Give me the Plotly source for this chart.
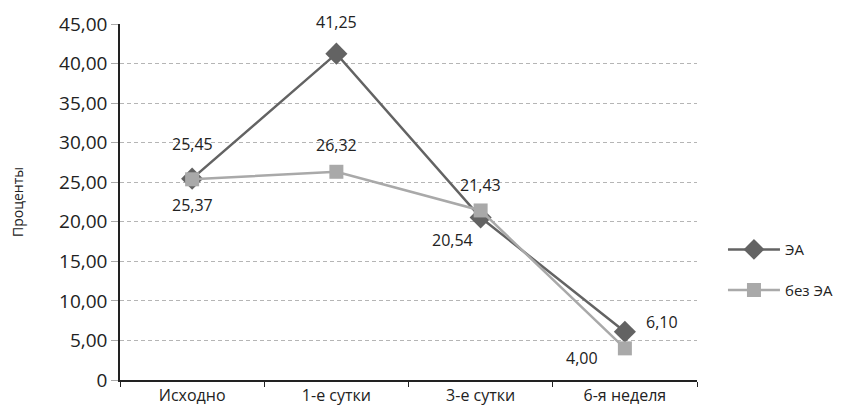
import plotly.graph_objects as go

categories = ["Исходно", "1-е сутки", "3-е сутки", "6-я неделя"]
ea_values = [25.45, 41.25, 20.54, 6.10]
no_ea_values = [25.37, 26.32, 21.43, 4.00]
y_tick_values = [0, 5, 10, 15, 20, 25, 30, 35, 40, 45]
y_tick_labels = ["0", "5,00", "10,00", "15,00", "20,00", "25,00", "30,00", "35,00", "40,00", "45,00"]

FONT = "Open Sans"
DARK = "#636363"
LIGHT = "#a9a9a9"

def fmt(v):
    return f"{v:.2f}".replace(".", ",")

fig = go.Figure()
fig.add_trace(go.Scatter(
    x=categories, y=ea_values, name="ЭА", mode="lines+markers",
    line=dict(color=DARK, width=2.5),
    marker=dict(symbol="diamond", size=17, color=DARK),
    legendgroup="a",
))
fig.add_trace(go.Scatter(
    x=categories, y=no_ea_values, name="без ЭА", mode="lines+markers",
    line=dict(color=LIGHT, width=2.5),
    marker=dict(symbol="square", size=14, color=LIGHT),
    legendgroup="b",
))

# label offsets (pixels) relative to each point
ea_shift = [(0, 35), (0, 32), (-28, -22), (37, 10)]
no_ea_shift = [(0, -26), (0, 27), (0, 25), (-43, -10)]

annotations = []
for vals, shifts in ((ea_values, ea_shift), (no_ea_values, no_ea_shift)):
    for cat, v, (dx, dy) in zip(categories, vals, shifts):
        annotations.append(dict(
            x=cat, y=v, xref="x", yref="y", text=fmt(v), showarrow=False,
            xanchor="center", yanchor="middle", xshift=dx, yshift=dy,
            font=dict(family=FONT, size=16, color="#222222"),
        ))

fig.update_layout(
    width=840, height=400,
    margin=dict(l=112, r=151, t=16, b=28, autoexpand=False),
    paper_bgcolor="white", plot_bgcolor="white",
    font=dict(family=FONT, color="#222222"),
    showlegend=True,
    legend=dict(
        x=1.045, xanchor="left", y=0.31, yanchor="middle",
        font=dict(family=FONT, size=15, color="#222222"),
        traceorder="grouped", tracegroupgap=18,
        itemwidth=52, bgcolor="rgba(0,0,0,0)",
    ),
    annotations=annotations,
    xaxis=dict(
        type="category", categoryorder="array", categoryarray=categories,
        range=[-0.5, 3.5], tickson="boundaries", automargin=False,
        ticks="outside", ticklen=5, tickcolor="#222222",
        showline=True, linecolor="#222222", linewidth=1.5,
        showgrid=False, zeroline=False,
        tickfont=dict(family=FONT, size=16, color="#222222"),
    ),
    yaxis=dict(
        range=[0, 45], tickvals=y_tick_values, ticktext=y_tick_labels,
        automargin=False,
        ticks="outside", ticklen=7, tickcolor="#aaaaaa",
        showline=True, linecolor="#222222", linewidth=1.5,
        showgrid=True, gridcolor="#b5b5b5", griddash="4px,3px", gridwidth=1,
        zeroline=False,
        tickfont=dict(family=FONT, size=19, color="#222222"),
        title=dict(text="Проценты", font=dict(family=FONT, size=14, color="#222222"), standoff=32),
    ),
)

fig.write_html("out.html")
